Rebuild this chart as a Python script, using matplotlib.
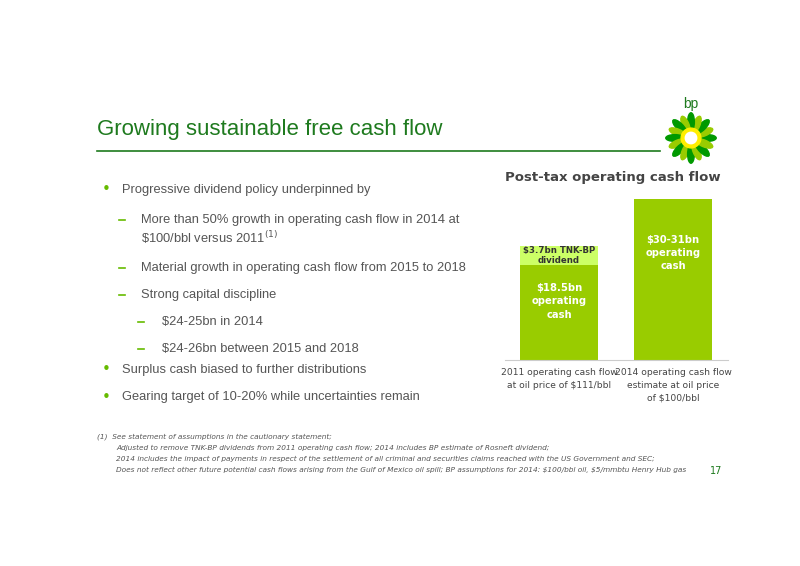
import matplotlib
matplotlib.use("Agg")
import matplotlib.pyplot as plt
from matplotlib.patches import Ellipse, Circle
import numpy as np

categories = ["2011 operating cash flow\nat oil price of $111/bbl",
              "2014 operating cash flow\nestimate at oil price\nof $100/bbl"]
operating_cash = [18.5, 31.5]
tnk_dividend = [3.7, 0]
bar_labels = ["$18.5bn\noperating\ncash", "$30-31bn\noperating\ncash"]

W, H = 800, 566
fig = plt.figure(figsize=(8, 5.66), dpi=100)
fig.patch.set_facecolor("white")

def fx(x): return x / W
def fy(y): return 1 - y / H

# title & rule
fig.text(fx(97), fy(130), "Growing sustainable free cash flow", fontsize=16, color="#1e7a1e",
         va="center", family="Liberation Sans")
fig.add_artist(plt.Line2D([fx(97), fx(660)], [fy(151), fy(151)], color="#1e7a1e", lw=1.2))
fig.text(fx(691), fy(104), "bp", fontsize=10, color="#1e7a1e", ha="center", va="center", family="Liberation Sans")

# logo
lax = fig.add_axes([fx(665), fy(164), fx(52), 52 / H])
lax.set_xlim(-1, 1); lax.set_ylim(-1, 1); lax.set_aspect("equal"); lax.axis("off")
for i, ang in enumerate(np.arange(0, 360, 22.5)):
    col = "#009900" if i % 2 == 0 else "#99cc00"
    r = 0.62 if i % 2 == 0 else 0.55
    a = np.deg2rad(ang)
    lax.add_patch(Ellipse((r * np.cos(a), r * np.sin(a)), 0.7, 0.26, angle=ang, color=col))
lax.add_patch(Circle((0, 0), 0.38, color="#ffee00"))
lax.add_patch(Circle((0, 0), 0.22, color="white"))

# bullets
bul = [(106, 190, 122, "Progressive dividend policy underpinned by", True),
       (122, 220, 141, "More than 50% growth in operating cash flow in 2014 at", False),
       (None, 238, 141, None, False),
       (122, 268, 141, "Material growth in operating cash flow from 2015 to 2018", False),
       (122, 295, 141, "Strong capital discipline", False),
       (141, 322, 162, "$24-25bn in 2014", False),
       (141, 349, 162, "$24-26bn between 2015 and 2018", False),
       (106, 370, 122, "Surplus cash biased to further distributions", True),
       (106, 397, 122, "Gearing target of 10-20% while uncertainties remain", True)]
for bx, y, tx, t, dot in bul:
    if bx is not None:
        if dot:
            fig.text(fx(bx), fy(y), "•", color="#66bb00", fontsize=11, va="center", ha="center")
        else:
            fig.add_artist(plt.Line2D([fx(bx - 3), fx(bx + 3)], [fy(y), fy(y)],
                                      color="#66bb00", lw=1.2))
    txt = r"\$100/bbl versus 2011$^{(1)}$" if t is None else t.replace("$", r"\$")
    fig.text(fx(tx), fy(y), txt, color="#555555", fontsize=9.3, va="center", family="Liberation Sans")

# chart
ax = fig.add_axes([fx(505), fy(360), fx(223), 169 / H])
x = np.arange(len(categories))
ax.bar(x, operating_cash, width=0.684, color="#99cc00")
ax.bar(x, tnk_dividend, bottom=operating_cash, width=0.684, color="#ccff66")
ax.set_xlim(-0.474, 1.48); ax.set_ylim(0, 33)
for s in ["top", "right", "left"]:
    ax.spines[s].set_visible(False)
ax.spines["bottom"].set_color("#cccccc")
ax.set_yticks([])
ax.set_xticks(x)
ax.set_xticklabels(categories, fontsize=6.6, color="#444444", va="top", linespacing=1.5)
ax.tick_params(axis="x", length=0, pad=6)
ax.text(0, operating_cash[0] - 3.5, bar_labels[0], ha="center", va="top", color="white",
        fontsize=7.2, fontweight="bold", linespacing=1.4)
ax.text(1, operating_cash[1] - 7, bar_labels[1], ha="center", va="top", color="white",
        fontsize=7.2, fontweight="bold", linespacing=1.4)
ax.text(0, operating_cash[0] + tnk_dividend[0] / 2, "$3.7bn TNK-BP\ndividend".replace("$", r"\$"),
        ha="center", va="center", color="#333333", fontsize=6.2, fontweight="bold", linespacing=1.1)
fig.text(fx(613), fy(178), "Post-tax operating cash flow", ha="center", va="center",
         fontsize=9.5, fontweight="bold", color="#444444")

# footnotes
fn = ["(1)  See statement of assumptions in the cautionary statement;",
      "Adjusted to remove TNK-BP dividends from 2011 operating cash flow; 2014 includes BP estimate of Rosneft dividend;",
      "2014 includes the impact of payments in respect of the settlement of all criminal and securities claims reached with the US Government and SEC;",
      "Does not reflect other future potential cash flows arising from the Gulf of Mexico oil spill; BP assumptions for 2014: $100/bbl oil, $5/mmbtu Henry Hub gas"]
for i, t in enumerate(fn):
    fig.text(fx(97 if i == 0 else 116), fy(437 + 11 * i), t.replace("$", r"\$"), fontsize=5.3,
             style="italic", color="#555555", va="center")
fig.text(fx(722), fy(471), "17", fontsize=7, color="#1e7a1e", ha="right", va="center")

fig.savefig("out.png", dpi=100)
